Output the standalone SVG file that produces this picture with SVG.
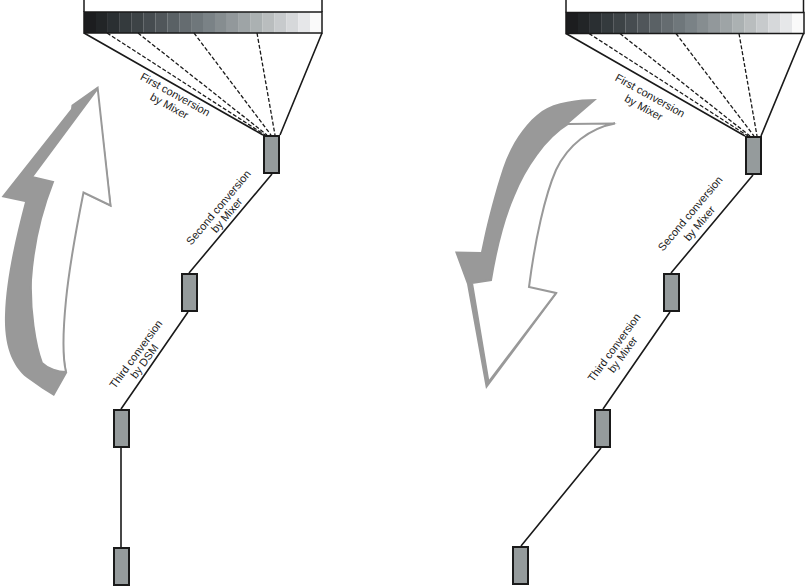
<svg xmlns="http://www.w3.org/2000/svg" width="805" height="586" viewBox="0 0 805 586">
<style>
.box{fill:#959b9c;stroke:#1a1a1a;stroke-width:2}
.ln{fill:none;stroke:#1a1a1a;stroke-width:1.6}
.dash{fill:none;stroke:#1a1a1a;stroke-width:1.3;stroke-dasharray:4 2}
.frame{fill:none;stroke:#1a1a1a;stroke-width:1.5}
.lbl{font-family:"Liberation Sans",Arial,sans-serif;font-size:11px;fill:#1a1a1a;text-anchor:middle}
.sh{fill:#999999;stroke:none}
.fr{fill:#ffffff;stroke:#999999;stroke-width:2;stroke-linejoin:miter}
</style>
<defs>
<g id="grad">
<rect x="0" y="0" width="12" height="21" fill="#1c1d1f"/>
<rect x="11.9" y="0" width="12" height="21" fill="#222527"/>
<rect x="23.8" y="0" width="12" height="21" fill="#2a2f32"/>
<rect x="35.7" y="0" width="12" height="21" fill="#343a3d"/>
<rect x="47.6" y="0" width="12" height="21" fill="#3d4346"/>
<rect x="59.5" y="0" width="12" height="21" fill="#464c50"/>
<rect x="71.4" y="0" width="12" height="21" fill="#50565a"/>
<rect x="83.3" y="0" width="12" height="21" fill="#5a6165"/>
<rect x="95.2" y="0" width="12" height="21" fill="#656c70"/>
<rect x="107.1" y="0" width="12" height="21" fill="#6f777b"/>
<rect x="119" y="0" width="12" height="21" fill="#7a8286"/>
<rect x="130.9" y="0" width="12" height="21" fill="#868d90"/>
<rect x="142.8" y="0" width="12" height="21" fill="#92989b"/>
<rect x="154.7" y="0" width="12" height="21" fill="#9ea4a6"/>
<rect x="166.6" y="0" width="12" height="21" fill="#abb1b2"/>
<rect x="178.5" y="0" width="12" height="21" fill="#b9bdbe"/>
<rect x="190.4" y="0" width="12" height="21" fill="#c7cacc"/>
<rect x="202.3" y="0" width="12" height="21" fill="#d6d8da"/>
<rect x="214.2" y="0" width="12" height="21" fill="#e6e7e9"/>
<rect x="226.1" y="0" width="11.9" height="21" fill="#fafafa"/>
</g>
</defs>

<!-- Left panel -->
<g id="left-bar">
<use href="#grad" transform="translate(84 12)"/>
<rect class="frame" x="84" y="12" width="238" height="21"/>
<path class="frame" d="M84,0 V12 M322,0 V12"/>
</g>
<g id="left-arrow">
<path class="sh" d="M97.7,86.5 L71.5,105 L71,109 L1.5,197 L25,202 C15,240 6,280 5,315 C4,345 12,368 30,380 C38,386 46,391 54,396 L67,373 C61,345 63,300 70,260 C74,235 78,214 81,206 L80,201 L83,193 L111.5,207 Z"/>
<path class="fr" d="M97.7,88.5 L110.5,205.5 L83.5,192.5 C78,220 70,260 66,300 C63,330 62,355 66,372 C58,372 48,369 42,363 C35,345 30,310 31,280 C33,250 40,215 53,182 L32,177 Z"/>
</g>

<g id="left-connectors">
<path class="ln" d="M84,33 L263,135 M322,33 L280,135"/>
<path class="dash" d="M107,33 L265,135 M138,33 L267,135 M194,33 L271,135 M257,33 L275,135"/>
<path class="ln" d="M272,174 L189,273 M188,312 L121,409 M121,448 L121,547"/>
</g>
<g id="left-box1"><rect class="box" x="264" y="136" width="15" height="37"/></g>
<g id="left-box2"><rect class="box" x="182" y="274" width="15" height="37"/></g>
<g id="left-box3"><rect class="box" x="114" y="410" width="15" height="37"/></g>
<g id="left-box4"><rect class="box" x="114" y="548" width="15" height="37"/></g>

<g id="left-labels">
<text class="lbl" transform="translate(175.3 94.3) rotate(29)" y="4">First conversion</text>
<text class="lbl" transform="translate(169 106.7) rotate(29)" y="3">by Mixer</text>
<text class="lbl" transform="translate(218.3 207.3) rotate(-50)" y="4">Second conversion</text>
<text class="lbl" transform="translate(227.3 215.7) rotate(-50)" y="3">by Mixer</text>
<text class="lbl" transform="translate(135.7 354) rotate(-54)" y="4">Third conversion</text>
<text class="lbl" transform="translate(145 361.7) rotate(-54)" y="3">by DSM</text>
</g>

<!-- Right panel -->
<g id="right-bar">
<use href="#grad" transform="translate(566 12.5)"/>
<rect class="frame" x="566" y="12.5" width="238" height="21"/>
<path class="frame" d="M566,0 V12.5 M803.5,0 V12.5"/>
</g>
<g id="right-arrow">
<path class="sh" d="M597,99 C578,99 555,102 542,111 C524,124 511,145 503,168 C495,192 488,220 484,238 L481,252 L455,251.5 L467,284 L486,389 L557.5,293 L528,287 C531,250 537,210 545,185 C556,155 575,133 617,123 L568,124 Z"/>
<path class="fr" d="M568,124 L615,123.5 C590,128 568,145 556,170 C545,195 535,240 529,287 L556,293 L488.5,382 L472,283 L491,280 C496,250 503,220 514,195 C525,168 545,138 568,124 Z"/>
</g>

<g id="right-connectors">
<path class="ln" d="M566,33.5 L745,136 M803.5,33.5 L761,136"/>
<path class="dash" d="M589,33.5 L748,136 M620,33.5 L750,136 M676,33.5 L754,136 M739,33.5 L757,136"/>
<path class="ln" d="M753,175 L671,273 M670,312 L603,409 M601,448 L521,546"/>
</g>
<g id="right-box1"><rect class="box" x="746" y="137" width="15" height="37"/></g>
<g id="right-box2"><rect class="box" x="664" y="274" width="15" height="37"/></g>
<g id="right-box3"><rect class="box" x="595" y="410" width="15" height="37"/></g>
<g id="right-box4"><rect class="box" x="513" y="547" width="15" height="37"/></g>

<g id="right-labels">
<text class="lbl" transform="translate(650.2 95.3) rotate(29)" y="4">First conversion</text>
<text class="lbl" transform="translate(643.3 108.3) rotate(29)" y="3">by Mixer</text>
<text class="lbl" transform="translate(690 213.3) rotate(-50)" y="4">Second conversion</text>
<text class="lbl" transform="translate(700 224) rotate(-50)" y="3">by Mixer</text>
<text class="lbl" transform="translate(614 347.3) rotate(-54)" y="4">Third conversion</text>
<text class="lbl" transform="translate(623.3 355) rotate(-54)" y="3">by Mixer</text>
</g>
</svg>
